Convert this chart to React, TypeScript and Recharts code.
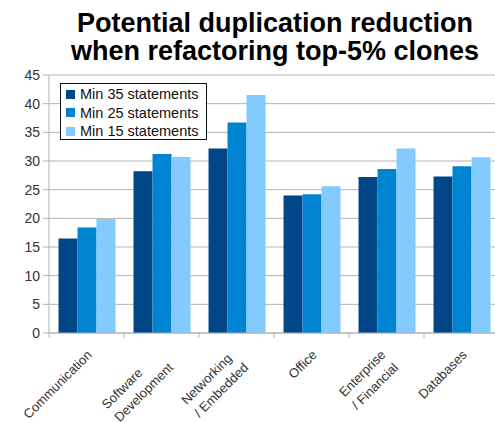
import { Bar, BarChart, CartesianGrid, Legend, XAxis, YAxis } from 'recharts'

const categories = [
  'Communication',
  'Software\nDevelopment',
  'Networking\n/ Embedded',
  'Office',
  'Enterprise\n/ Financial',
  'Databases',
]
const min35 = [16.5, 28.2, 32.2, 24.0, 27.2, 27.3]
const min25 = [18.4, 31.2, 36.7, 24.2, 28.6, 29.1]
const min15 = [19.9, 30.7, 41.5, 25.6, 32.2, 30.65]
const yTicks = [0, 5, 10, 15, 20, 25, 30, 35, 40, 45]

const series = [
  { key: 'min35', name: 'Min 35 statements', color: '#004586' },
  { key: 'min25', name: 'Min 25 statements', color: '#0084d1' },
  { key: 'min15', name: 'Min 15 statements', color: '#83caff' },
]

const data = categories.map((c, i) => ({ cat: c, min35: min35[i], min25: min25[i], min15: min15[i] }))

const FONT = '"Liberation Sans", Arial, sans-serif'
const W = 500
const H = 423
const Y_W = 49
const X_H = 90
const TOP = 75
const PLOT_BOTTOM = H - X_H
const BAND = (W - Y_W - 1) / categories.length
const GRID = '#b3b3b3'
const LABEL_SIZE = 13

let ctx: CanvasRenderingContext2D | null = null
function textWidth(s: string, size: number) {
  if (!ctx) ctx = document.createElement('canvas').getContext('2d')
  if (!ctx) return s.length * size * 0.55
  ctx.font = `${size}px "Liberation Sans"`
  return ctx.measureText(s).width
}

// rotated, left-aligned multi-line labels (block's top-right sits under the tick)
function XTick(props: any) {
  const { x, payload, index } = props
  const lines: string[] = String(payload.value).split('\n')
  const w = Math.max(...lines.map((l) => textWidth(l, LABEL_SIZE)))
  const shift = 4.5 * (lines.length - 1)
  const right = -2.5 - shift
  const base = 14 - shift
  return (
    <g>
      <line x1={x - BAND / 2} x2={x - BAND / 2} y1={PLOT_BOTTOM} y2={PLOT_BOTTOM + 5} stroke={GRID} />
      {index === categories.length - 1 && (
        <line x1={x + BAND / 2} x2={x + BAND / 2} y1={PLOT_BOTTOM} y2={PLOT_BOTTOM + 5} stroke={GRID} />
      )}
      <g transform={`translate(${x - 2},${PLOT_BOTTOM + 11}) rotate(-45)`}>
        {lines.map((l, i) => (
          <text key={i} x={right - w} y={base + i * 18} fontSize={LABEL_SIZE} fill="#333" fontFamily={FONT}>
            {l}
          </text>
        ))}
      </g>
    </g>
  )
}

function LegendBox() {
  return (
    <div
      style={{
        boxSizing: 'border-box',
        width: 147,
        height: 57,
        border: '1px solid #111',
        background: '#fff',
        padding: '1px 0 0 5px',
        fontFamily: FONT,
        fontSize: 14.5,
        color: '#111',
      }}
    >
      {series.map((s) => (
        <div key={s.key} style={{ height: 18.5, display: 'flex', alignItems: 'center' }}>
          <span style={{ width: 9, height: 9, background: s.color, marginRight: 5, display: 'inline-block' }} />
          <span style={{ whiteSpace: 'nowrap' }}>{s.name}</span>
        </div>
      ))}
    </div>
  )
}

export default function App() {
  return (
    <div
      style={{
        position: 'absolute',
        left: 0,
        top: 0,
        width: 495,
        height: 423,
        overflow: 'hidden',
        background: '#fff',
        fontFamily: FONT,
      }}
    >
      <BarChart
        width={W}
        height={H}
        data={data}
        margin={{ top: TOP, right: 1, bottom: 0, left: 0 }}
        barCategoryGap="12.7%"
        barGap={0}
      >
        <CartesianGrid vertical={false} stroke={GRID} />
        <XAxis
          dataKey="cat"
          height={X_H}
          interval={0}
          tickLine={false}
          axisLine={{ stroke: GRID }}
          tick={<XTick />}
        />
        <YAxis
          width={Y_W}
          domain={[0, 45]}
          ticks={yTicks}
          tickSize={6}
          tickMargin={3}
          tickLine={{ stroke: GRID }}
          axisLine={{ stroke: GRID }}
          tick={{ fill: '#333', fontSize: 14, fontFamily: FONT }}
        />
        <Legend
          layout="vertical"
          align="center"
          verticalAlign="middle"
          wrapperStyle={{ position: 'absolute', left: 60, top: 83, width: 'auto' }}
          content={() => <LegendBox />}
        />
        {series.map((s) => (
          <Bar key={s.key} dataKey={s.key} name={s.name} fill={s.color} isAnimationActive={false} />
        ))}
      </BarChart>
      <div
        style={{
          position: 'absolute',
          left: 25,
          top: 9,
          width: 500,
          textAlign: 'center',
          fontWeight: 'bold',
          fontSize: 27,
          lineHeight: '28px',
          color: '#000',
        }}
      >
        Potential duplication reduction
        <br />
        when refactoring top-5% clones
      </div>
    </div>
  )
}
